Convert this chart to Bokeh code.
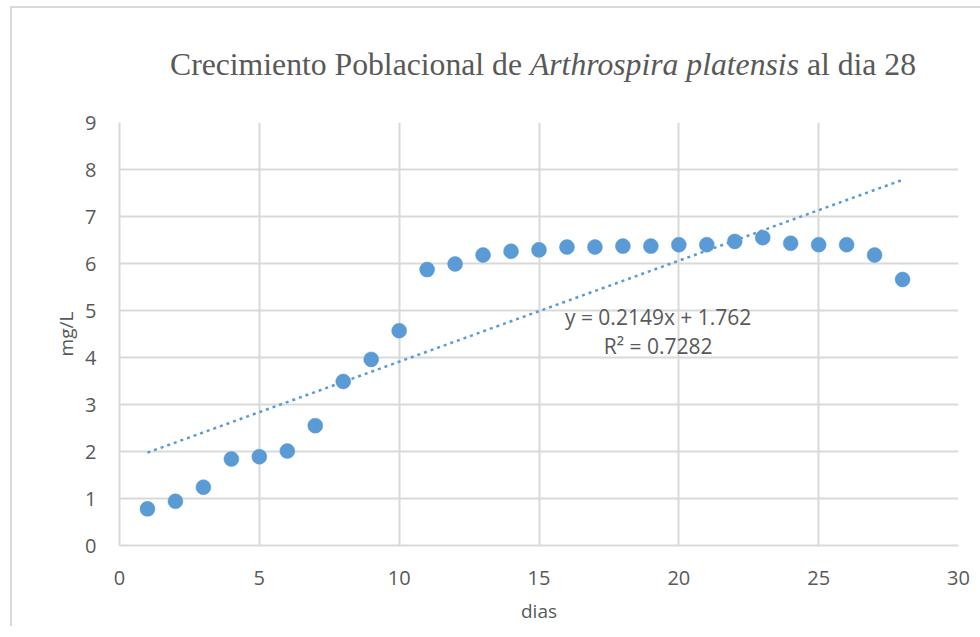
from bokeh.plotting import figure
from bokeh.models import Range1d, Label, FixedTicker, Div
from bokeh.layouts import column
from bokeh.embed import file_html
from bokeh.resources import INLINE
import numpy as np

dias = list(range(1, 29))
mg_l = [0.78, 0.94, 1.24, 1.84, 1.89, 2.01, 2.55, 3.49, 3.96, 4.57,
        5.87, 5.99, 6.18, 6.26, 6.29, 6.35, 6.35, 6.37, 6.37, 6.40,
        6.40, 6.47, 6.55, 6.43, 6.40, 6.40, 6.18, 5.66]
trend_slope = 0.2149
trend_intercept = 1.762
x_ticks = [0, 5, 10, 15, 20, 25, 30]
y_ticks = [0, 1, 2, 3, 4, 5, 6, 7, 8, 9]
title_parts = ["Crecimiento Poblacional de", "Arthrospira platensis", "al dia 28"]
eq_text = "y = 0.2149x + 1.762"
r2_text = "R\u00b2 = 0.7282"

BLUE = "#5B9BD5"
GRAY = "#595959"
GRID = "#D9D9D9"
TICK_FONT = "Open Sans"

SHIFT_X = 12  # border margin + border width
SHIFT_Y = 6   # extra top margin

title_html = (
    '<div style="font-family:\'Liberation Serif\',serif; font-size:31.7px; '
    f'color:#595959; padding-left:{165 - SHIFT_X}px; padding-top:{40 - SHIFT_Y}px; '
    'white-space:nowrap; line-height:36px;">'
    f'{title_parts[0]} <i>{title_parts[1]}</i> {title_parts[2]}</div>'
)
title_div = Div(text=title_html, width=972 - SHIFT_X, height=98 - SHIFT_Y)

p = figure(width=972 - SHIFT_X, height=516, output_backend="svg", toolbar_location=None,
           x_range=Range1d(0, 30), y_range=Range1d(0, 9),
           min_border_left=119 - SHIFT_X, min_border_top=12, min_border_right=14,
           min_border_bottom=81)
p.outline_line_color = None
p.background_fill_color = "white"
p.border_fill_color = "white"

for ax in (p.xaxis[0], p.yaxis[0]):
    ax.axis_line_color = GRID
    ax.axis_line_width = 2
    ax.major_tick_line_color = None
    ax.minor_tick_line_color = None
    ax.major_label_text_color = GRAY
    ax.major_label_text_font = TICK_FONT
    ax.major_label_text_font_size = "20px"
    ax.axis_label_text_color = GRAY
    ax.axis_label_text_font = TICK_FONT
    ax.axis_label_text_font_size = "19px"
    ax.axis_label_text_font_style = "normal"

p.xaxis.ticker = FixedTicker(ticks=x_ticks)
p.yaxis.ticker = FixedTicker(ticks=y_ticks)
p.xaxis.axis_label = "dias"
p.yaxis.axis_label = "mg/L"
p.xaxis.major_label_standoff = 19
p.yaxis.major_label_standoff = 17
p.xaxis.axis_label_standoff = 10
p.yaxis.axis_label_standoff = 3

p.xgrid.grid_line_color = GRID
p.ygrid.grid_line_color = GRID
p.xgrid.grid_line_width = 2
p.ygrid.grid_line_width = 2

tx = np.array([dias[0], dias[-1]], dtype=float)
ty = trend_slope * tx + trend_intercept
p.line(tx, ty, line_color=BLUE, line_width=2.5, line_dash="3 4")

p.scatter(dias, mg_l, size=15, fill_color=BLUE, line_color=BLUE, line_width=0.5)

p.add_layout(Label(x=19.26, y=4.87, text=eq_text, text_align="center",
                   text_baseline="alphabetic", text_color=GRAY,
                   text_font=TICK_FONT, text_font_size="21px"))
p.add_layout(Label(x=19.26, y=4.255, text=r2_text, text_align="center",
                   text_baseline="alphabetic", text_color=GRAY,
                   text_font=TICK_FONT, text_font_size="21px"))

layout = column(title_div, p, spacing=0,
                styles={"margin-left": "10px", "margin-top": f"{SHIFT_Y}px",
                        "border-left": "2px solid #D9D9D9",
                        "border-top": "2px solid #D9D9D9"})
open("out.html", "w").write(file_html(layout, INLINE))
